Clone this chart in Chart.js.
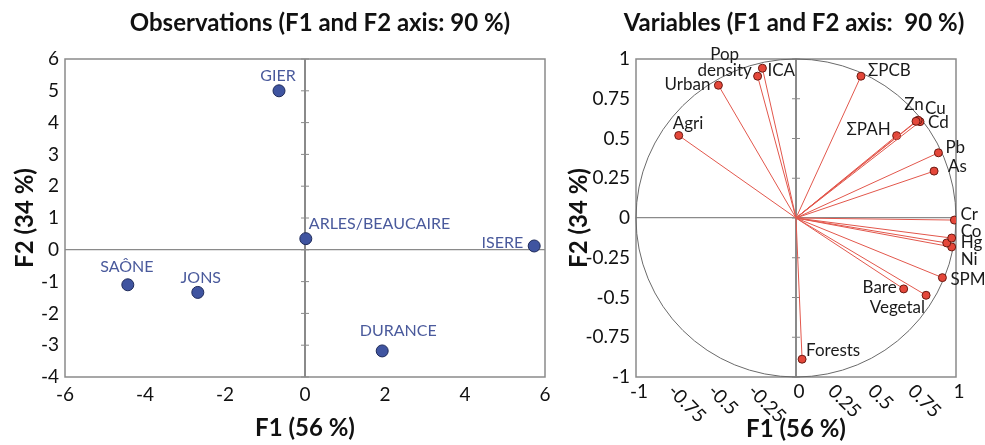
<!doctype html>
<html>
<head>
	<title>PCA F1 x F2</title>
	<script src="https://cdn.jsdelivr.net/npm/chart.js@4/dist/chart.umd.min.js"></script>
	<style>
	body { margin: 0; background: #fff; }
	canvas { position: absolute; top: 0; }
	</style>
</head>
<body>
	<canvas id="obs-canvas" width="563" height="445" style="left:0"></canvas>
	<canvas id="var-canvas" width="422" height="445" style="left:563px"></canvas>
	<script>
	// observations (sites)
	var obsNames = ['GIER', 'ARLES/BEAUCAIRE', 'ISERE', 'SAÔNE', 'JONS', 'DURANCE'];
	var obsF1 = [-0.65, 0.02, 5.73, -4.43, -2.68, 1.93];
	var obsF2 = [5.0, 0.35, 0.12, -1.1, -1.34, -3.18];
	var obsXTicks = [-6, -4, -2, 0, 2, 4, 6];
	var obsYTicks = [-4, -3, -2, -1, 0, 1, 2, 3, 4, 5, 6];

	// variables (correlation circle)
	var varNames = ['ICA', 'Pop density', 'Urban', 'Agri', 'ΣPCB', 'Zn', 'Cu', 'Cd', 'ΣPAH', 'Pb', 'As',
		'Cr', 'Co', 'Hg', 'Ni', 'SPM', 'Bare', 'Vegetal', 'Forests'];
	var varF1 = [-0.21, -0.24, -0.485, -0.733, 0.406, 0.75, 0.763, 0.775, 0.629, 0.89, 0.863,
		0.99, 0.973, 0.942, 0.973, 0.915, 0.673, 0.813, 0.038];
	var varF2 = [0.942, 0.892, 0.835, 0.519, 0.892, 0.608, 0.615, 0.606, 0.518, 0.41, 0.295,
		-0.013, -0.126, -0.157, -0.182, -0.375, -0.446, -0.486, -0.888];
	var varTicks = [-1, -0.75, -0.5, -0.25, 0, 0.25, 0.5, 0.75, 1];

	var FONT = 'Lato, "Open Sans", sans-serif';

	// label offsets from the marker (px): dx, dy, align
	var obsLabelAt = {
		'GIER': [-1, -10, 'center'], 'ARLES/BEAUCAIRE': [3, -10, 'left'], 'ISERE': [-11, 2, 'right'],
		'SAÔNE': [-1, -13, 'center'], 'JONS': [3, -9, 'center'], 'DURANCE': [16, -15, 'center']
	};
	var varLabelAt = {
		'ICA': [5, 2, 'left'], 'Pop density': [-33, -6, 'center'], 'Urban': [-8, -1, 'right'],
		'Agri': [-6, -12, 'left'], 'ΣPCB': [7, -6, 'left'], 'Zn': [-2, -17, 'center'],
		'Cu': [7, -12, 'left'], 'Cd': [8, 1, 'left'], 'ΣPAH': [-6, -6, 'right'],
		'Pb': [7, -5, 'left'], 'As': [14, -5, 'left'], 'Cr': [6, -6, 'left'],
		'Co': [9, -7, 'left'], 'Hg': [14, 0, 'left'], 'Ni': [9, 13, 'left'],
		'SPM': [8, 2, 'left'], 'Bare': [-7, -1, 'right'], 'Vegetal': [-1, 12, 'right'],
		'Forests': [4, -9, 'left']
	};

	function fixedTicks(values) {
		return function(scale) {
			scale.ticks = values.map(function(v) { return {value: v}; });
		};
	}
	function zeroOnly(c) {
		return c.tick && c.tick.value === 0 ? '#8a8a8a' : 'rgba(0,0,0,0)';
	}

	var pcaDecor = {
		id: 'pcaDecor',
		beforeDatasetsDraw: function(chart, args, o) {
			var ctx = chart.ctx, a = chart.chartArea, x = chart.scales.x, y = chart.scales.y;
			var x0 = x.getPixelForValue(0), y0 = y.getPixelForValue(0);
			ctx.save();
			ctx.strokeStyle = '#8a8a8a';
			ctx.lineWidth = 1.5;
			ctx.strokeRect(a.left, a.top, a.right - a.left, a.bottom - a.top);
			// little marks on the vertical zero axis
			ctx.lineWidth = 1;
			y.ticks.forEach(function(t) {
				var py = y.getPixelForValue(t.value);
				ctx.beginPath();
				ctx.moveTo(x0 - 4, py);
				ctx.lineTo(x0 + 4, py);
				ctx.stroke();
			});
			if (o.circle) {
				ctx.strokeStyle = '#6a6a6a';
				ctx.beginPath();
				ctx.ellipse(x0, y0, x.getPixelForValue(1) - x0, y0 - y.getPixelForValue(1), 0, 0, Math.PI * 2);
				ctx.stroke();
			}
			ctx.restore();
		},
		afterDatasetsDraw: function(chart, args, o) {
			var ctx = chart.ctx;
			ctx.save();
			ctx.font = o.labelFont;
			ctx.fillStyle = o.labelColor;
			ctx.textBaseline = o.baseline;
			o.names.forEach(function(name, i) {
				var p = o.pointOf(chart, i), at = o.labelAt[name];
				ctx.textAlign = at[2];
				var lines = o.split ? name.split(' ') : [name];
				for (var k = 0; k < lines.length; k++) {
					ctx.fillText(lines[k], p.x + at[0], p.y + at[1] - (lines.length - 1 - k) * 16);
				}
			});
			// chart title
			ctx.font = 'bold 24px ' + FONT;
			ctx.fillStyle = '#111';
			ctx.textAlign = 'center';
			ctx.textBaseline = 'middle';
			ctx.fillText(o.title, o.titleX, 23);
			// slanted x tick labels
			if (o.slantTicks) {
				var x = chart.scales.x;
				ctx.font = '19px ' + FONT;
				o.slantTicks.forEach(function(v) {
					var px = x.getPixelForValue(v);
					ctx.save();
					if (Number.isInteger(v)) {
						ctx.textAlign = 'center';
						ctx.fillText(String(v), px + 3, 392);
					} else {
						ctx.translate(px - 5, 388);
						ctx.rotate(Math.PI / 4);
						ctx.textAlign = 'left';
						ctx.fillText(String(v), 0, 0);
					}
					ctx.restore();
				});
			}
			ctx.restore();
		}
	};

	function axis(min, max, ticks, size, title, titlePad, showTicks, zeroWidth) {
		return {
			type: 'linear', min: min, max: max,
			afterBuildTicks: fixedTicks(ticks),
			afterFit: function(s) { if (s.isHorizontal()) s.height = size; else s.width = size; },
			grid: { drawTicks: false, color: zeroOnly, lineWidth: zeroWidth },
			border: { display: false },
			ticks: {
				display: showTicks, color: '#111', font: { family: FONT, size: 19 },
				padding: 6, maxRotation: 0, autoSkip: false,
				callback: function(v) { return String(v); }
			},
			title: {
				display: true, text: title, color: '#111',
				font: { family: FONT, size: 24, weight: 'bold' }, padding: titlePad
			}
		};
	}

	window.onload = function() {
		var obsCtx = document.getElementById('obs-canvas').getContext('2d');
		window.obsChart = new Chart(obsCtx, {
			type: 'scatter',
			data: {
				datasets: [{
					data: obsF1.map(function(v, i) { return {x: v, y: obsF2[i]}; }),
					pointRadius: 6, backgroundColor: '#3f54a0', borderColor: '#1e2a5a', borderWidth: 1
				}]
			},
			options: {
				responsive: false, animation: false,
				layout: { padding: { top: 59, right: 18, bottom: 0, left: 0 } },
				plugins: {
					legend: { display: false }, tooltip: { enabled: false },
					pcaDecor: {
						names: obsNames, labelAt: obsLabelAt, baseline: 'alphabetic',
						labelFont: '16px ' + FONT, labelColor: '#4a5a9c',
						pointOf: function(c, i) { return c.getDatasetMeta(0).data[i]; },
						title: 'Observations (F1 and F2 axis: 90 %)', titleX: 320
					}
				},
				scales: {
					x: axis(-6, 6, obsXTicks, 68, 'F1 (56 %)', { top: 0, bottom: 2 }, true, 2),
					y: axis(-4, 6, obsYTicks, 65, 'F2 (34 %)', { top: 11, bottom: 0 }, true, 1.2)
				}
			},
			plugins: [pcaDecor]
		});

		var varCtx = document.getElementById('var-canvas').getContext('2d');
		window.varChart = new Chart(varCtx, {
			type: 'scatter',
			data: {
				datasets: varNames.map(function(name, i) {
					return {
						label: name, showLine: true,
						data: [{x: 0, y: 0}, {x: varF1[i], y: varF2[i]}],
						borderColor: '#e2574c', borderWidth: 1,
						pointRadius: [0, 4], pointBackgroundColor: '#e4473a',
						pointBorderColor: '#6b1a12', pointBorderWidth: 1
					};
				})
			},
			options: {
				responsive: false, animation: false,
				layout: { padding: { top: 59, right: 29, bottom: 0, left: 0 } },
				plugins: {
					legend: { display: false }, tooltip: { enabled: false },
					pcaDecor: {
						names: varNames, labelAt: varLabelAt, baseline: 'middle', split: true,
						labelFont: '17px ' + FONT, labelColor: '#1a1a1a',
						pointOf: function(c, i) { return c.getDatasetMeta(i).data[1]; },
						circle: true, slantTicks: varTicks,
						title: 'Variables (F1 and F2 axis:  90 %)', titleX: 231
					}
				},
				scales: {
					x: axis(-1, 1, varTicks, 68, 'F1 (56 %)', { top: 0, bottom: 1 }, false, 2),
					y: axis(-1, 1, varTicks, 73, 'F2 (34 %)', { top: 2, bottom: 0 }, true, 1.2)
				}
			},
			plugins: [pcaDecor]
		});
	};
	</script>
</body>
</html>
